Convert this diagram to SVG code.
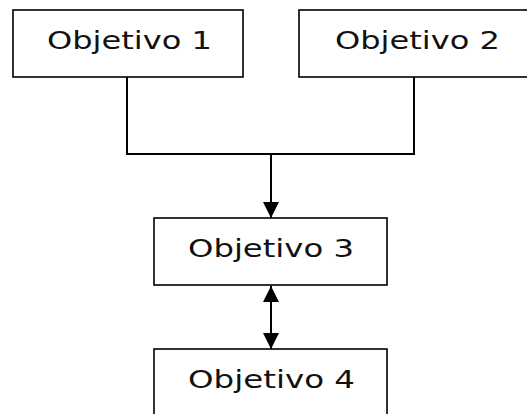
<svg xmlns="http://www.w3.org/2000/svg" width="527" height="414" viewBox="0 0 527 414">
<defs>
<style>
.box{fill:#fff;stroke:#000;stroke-width:1.6}
.lbl{font-family:"DejaVu Sans",Verdana,sans-serif;font-size:25px;fill:#111}
.con{fill:none;stroke:#000;stroke-width:2}
</style>
<marker id="ah" viewBox="0 0 16 16" refX="16" refY="8" markerWidth="16" markerHeight="16" markerUnits="userSpaceOnUse" orient="auto-start-reverse">
<path d="M0,0 L16,8 L0,16 z" fill="#000"/>
</marker>
</defs>
<rect width="527" height="414" fill="#fff"/>
<g id="connectors">
<polyline class="con" points="127,77 127,154 414,154 414,77"/>
<line class="con" x1="271" y1="154" x2="271" y2="218" marker-end="url(#ah)"/>
<line class="con" x1="271" y1="286" x2="271" y2="349" marker-start="url(#ah)" marker-end="url(#ah)"/>
</g>
<g id="obj1">
<rect class="box" x="13" y="10" width="230" height="67"/>
<text class="lbl" x="47" y="49" textLength="165" lengthAdjust="spacingAndGlyphs">Objetivo 1</text>
</g>
<g id="obj2">
<rect class="box" x="299" y="10" width="240" height="67"/>
<text class="lbl" x="335" y="49" textLength="165" lengthAdjust="spacingAndGlyphs">Objetivo 2</text>
</g>
<g id="obj3">
<rect class="box" x="154" y="218" width="233" height="67"/>
<text class="lbl" x="188" y="257" textLength="166" lengthAdjust="spacingAndGlyphs">Objetivo 3</text>
</g>
<g id="obj4">
<rect class="box" x="154" y="349" width="233" height="80"/>
<text class="lbl" x="188" y="388" textLength="167" lengthAdjust="spacingAndGlyphs">Objetivo 4</text>
</g>
</svg>
